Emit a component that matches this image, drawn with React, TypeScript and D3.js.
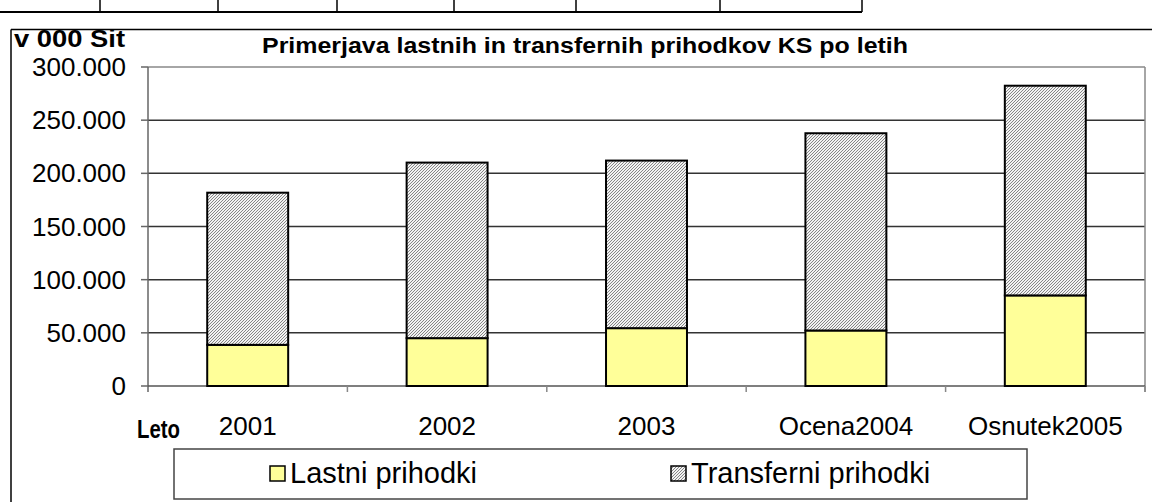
import React from "react";
import * as d3 from "d3";

const categories = ["2001", "2002", "2003", "Ocena2004", "Osnutek2005"];
const lastni = [38700, 45000, 54400, 52200, 85200];
const transferni = [143100, 165100, 157600, 185500, 197200];
const yTicks = [0, 50000, 100000, 150000, 200000, 250000, 300000];
const seriesNames = ["Lastni prihodki", "Transferni prihodki"];
const tableDividers = [100, 218, 337, 454, 576, 720, 862];

const W = 1152;
const H = 502;
const FONT = "Arial, 'Liberation Sans', sans-serif";

export default function App() {
  const plot = { left: 148, right: 1145, top: 67, bottom: 386 };
  const x = d3
    .scaleBand<string>()
    .domain(categories)
    .range([plot.left, plot.right])
    .paddingInner(0.594)
    .paddingOuter(0.297);
  const y = d3.scaleLinear().domain([0, 300000]).range([plot.bottom, plot.top]);
  const fmt = (v: number) =>
    v === 0 ? "0" : d3.format(",")(v).replace(/,/g, ".");
  const step = (plot.right - plot.left) / categories.length;
  const stacked = d3.stack<number>().keys(["l", "t"]).value((i, k) =>
    k === "l" ? lastni[i] : transferni[i]
  )(categories.map((_, i) => i) as any);

  return (
    <svg
      width={W}
      height={H}
      style={{ position: "absolute", left: 0, top: 0, background: "#fff" }}
      fontFamily={FONT}
    >
      <defs>
        <pattern id="hatch" patternUnits="userSpaceOnUse" width="3" height="3">
          <rect width="3" height="3" fill="#f2f2f2" />
          <path d="M-1,1 l2,-2 M0,3 l3,-3 M2,4 l2,-2" stroke="#6a6a6a" strokeWidth="0.8" />
        </pattern>
      </defs>
      {/* top table fragment */}
      <line x1={0} x2={862} y1={12} y2={12} stroke="#000" strokeWidth={2} />
      {tableDividers.map((d) => (
        <line key={d} x1={d} x2={d} y1={0} y2={12} stroke="#000" strokeWidth={1.5} />
      ))}
      {/* chart frame */}
      <line x1={11} x2={W} y1={29.5} y2={29.5} stroke="#000" strokeWidth={1.5} />
      <line x1={11} x2={11} y1={29.5} y2={H} stroke="#000" strokeWidth={1.5} />

      {/* gridlines */}
      {yTicks.map((t) => (
        <g key={t}>
          {t > 0 && (
            <line
              x1={plot.left}
              x2={plot.right}
              y1={y(t)}
              y2={y(t)}
              stroke={t === 300000 ? "#888" : "#333"}
              strokeWidth={1.5}
            />
          )}
          <line x1={plot.left - 7} x2={plot.left} y1={y(t)} y2={y(t)} stroke="#666" strokeWidth={1.5} />
          <text x={126} y={y(t) + 9} fontSize={26} textAnchor="end" fill="#000">
            {fmt(t)}
          </text>
        </g>
      ))}
      {/* plot borders */}
      <line x1={plot.right} x2={plot.right} y1={plot.top} y2={plot.bottom + 6} stroke="#888" strokeWidth={1.5} />
      <line x1={plot.left} x2={plot.left} y1={plot.top} y2={plot.bottom + 6} stroke="#666" strokeWidth={1.5} />
      <line x1={plot.left} x2={plot.right} y1={plot.bottom} y2={plot.bottom} stroke="#555" strokeWidth={1.5} />
      {categories.map((_, i) => (
        <line
          key={i}
          x1={plot.left + step * (i + 1)}
          x2={plot.left + step * (i + 1)}
          y1={plot.bottom}
          y2={plot.bottom + 6}
          stroke="#888"
          strokeWidth={1.5}
        />
      ))}

      {/* bars */}
      {stacked.map((layer, li) =>
        layer.map((d, i) => (
          <rect
            key={li + "-" + i}
            x={x(categories[i])!}
            width={x.bandwidth()}
            y={y(d[1])}
            height={y(d[0]) - y(d[1])}
            fill={li === 0 ? "#FFFF99" : "url(#hatch)"}
            stroke="#000"
            strokeWidth={2}
          />
        ))
      )}

      {/* category labels */}
      {categories.map((c) => (
        <text key={c} x={x(c)! + x.bandwidth() / 2} y={435} fontSize={26} textAnchor="middle">
          {c}
        </text>
      ))}
      <text x={137} y={438} fontSize={25} fontWeight="bold" textLength={43} lengthAdjust="spacingAndGlyphs">
        Leto
      </text>
      <text x={14} y={47} fontSize={24} fontWeight="bold" textLength={111} lengthAdjust="spacingAndGlyphs">
        v 000 Sit
      </text>
      <text x={262} y={53} fontSize={22} fontWeight="bold" textLength={646} lengthAdjust="spacingAndGlyphs">
        Primerjava lastnih in transfernih prihodkov KS po letih
      </text>

      {/* legend */}
      <rect x={174} y={449} width={853} height={50} fill="#fff" stroke="#444" strokeWidth={1.5} />
      {seriesNames.map((s, i) => {
        const sx = i === 0 ? 270 : 671;
        return (
          <g key={s}>
            <rect
              x={sx}
              y={466}
              width={15}
              height={15}
              fill={i === 0 ? "#FFFF99" : "url(#hatch)"}
              stroke="#000"
              strokeWidth={1.5}
            />
            <text x={i === 0 ? 290 : 691} y={483} fontSize={29}>
              {s}
            </text>
          </g>
        );
      })}
    </svg>
  );
}
